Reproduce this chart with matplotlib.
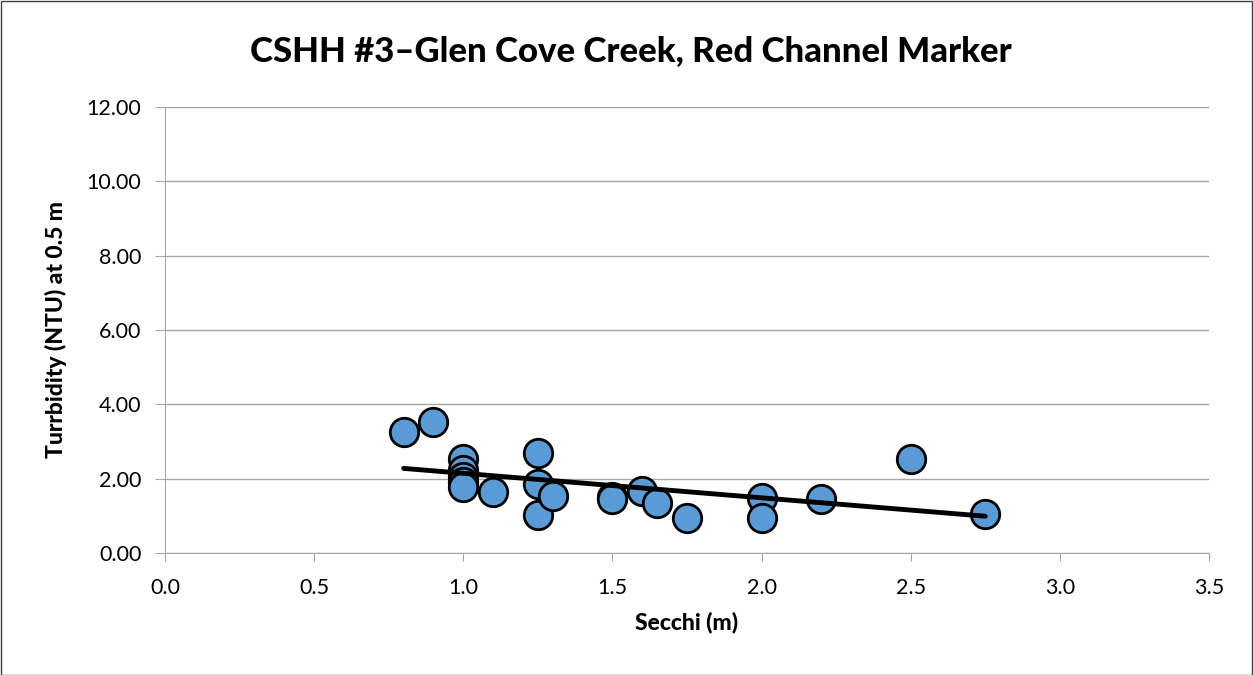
import matplotlib
matplotlib.use("Agg")
import matplotlib.pyplot as plt
import numpy as np
from matplotlib.patches import Rectangle

secchi = [0.80, 0.90, 1.00, 1.00, 1.00, 1.00, 1.00, 1.10, 1.25, 1.25, 1.25, 1.30,
          1.50, 1.50, 1.60, 1.65, 1.75, 2.00, 2.00, 2.20, 2.50, 2.75]
turbidity = [3.26, 3.53, 2.52, 2.23, 2.05, 1.90, 1.78, 1.64, 2.69, 1.86, 1.02, 1.53,
             1.51, 1.45, 1.67, 1.34, 0.94, 1.48, 0.95, 1.45, 2.53, 1.05]
title = "CSHH #3\u2013Glen Cove Creek, Red Channel Marker"
xlabel = "Secchi (m)"
ylabel = "Turrbidity (NTU) at 0.5 m"
xticks = [0.0, 0.5, 1.0, 1.5, 2.0, 2.5, 3.0, 3.5]
yticks = [0, 2, 4, 6, 8, 10, 12]

plt.rcParams['font.family'] = ['Lato', 'DejaVu Sans']

fig = plt.figure(figsize=(12.53, 6.75), dpi=100)
ax = fig.add_axes([165/1253, 1-553/675, (1209-165)/1253, (553-107)/675])

x = np.array(secchi); y = np.array(turbidity)
m, b = np.polyfit(x, y, 1)
xl = np.array([x.min(), x.max()])
ax.scatter(x, y, s=420, facecolor='#5B9BD5', edgecolor='black', linewidth=2.0, zorder=3)
ax.plot(xl, m*xl + b, color='black', linewidth=3.5, zorder=4, solid_capstyle='round')

ax.set_xlim(0, 3.5)
ax.set_ylim(0, 12)
ax.set_xticks(xticks)
ax.set_yticks(yticks)
ax.set_xticklabels([f"{v:.1f}" for v in xticks], fontsize=15.5)
ax.set_yticklabels([f"{v:.2f}" for v in yticks], fontsize=15.5)
ax.yaxis.grid(True, color='#A6A6A6', linewidth=1)
ax.set_axisbelow(True)
for s in ['top', 'right']:
    ax.spines[s].set_visible(False)
ax.spines['left'].set_color('#A6A6A6')
ax.spines['bottom'].set_color('#A6A6A6')
ax.tick_params(axis='x', color='#A6A6A6', length=6, direction='out', pad=12)
ax.tick_params(axis='y', color='#A6A6A6', length=7, direction='out', pad=10)
ax.set_xlabel(xlabel, fontsize=16.5, fontweight='black', labelpad=10)
ax.set_ylabel(ylabel, fontsize=16.5, fontweight='black', labelpad=14)
fig.text(631/1253, 1-52/675, title, fontsize=25, fontweight='black', ha='center', va='center')

fig.patches.append(Rectangle((0.5/1253, 0.5/675), 1-1.5/1253, 1-1.5/675, transform=fig.transFigure,
                             fill=False, edgecolor='#404040', linewidth=1))
fig.savefig("out.png", dpi=100)
